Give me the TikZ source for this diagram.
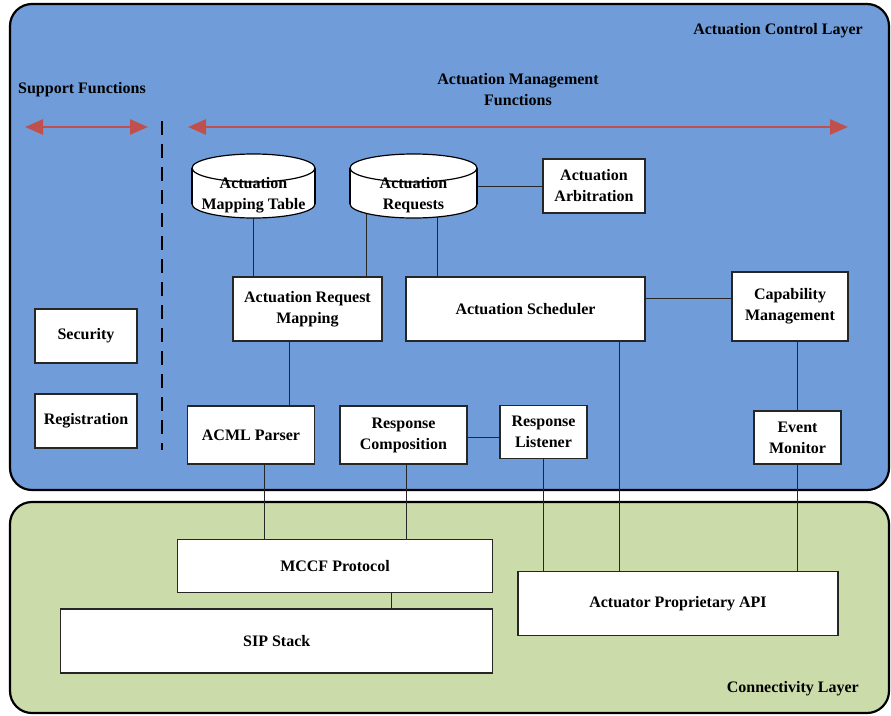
\documentclass[tikz,border=0pt]{standalone}
\usepackage{fontspec}
\setmainfont{Liberation Serif}
\usetikzlibrary{arrows.meta}
\pgfdeclarelayer{bg}
\pgfdeclarelayer{wires}
\pgfsetlayers{bg,wires,main}
\definecolor{layerblue}{RGB}{112,157,218}
\definecolor{layergreen}{RGB}{204,219,170}
\definecolor{arrowred}{RGB}{192,80,77}
\tikzset{
  x=1pt, y=-1pt,
  every node/.style={font=\fontsize{16}{21}\selectfont\bfseries, align=center, inner sep=0pt},
  layerbox/.style={draw=black, line width=2.2pt, rounded corners=22pt},
  fbox/.style={draw=black!85, line width=1.3pt, fill=white},
  cylslot/.style={minimum width=123pt, minimum height=64pt},
  wire/.style={draw=black!85, line width=1pt},
  span/.style={draw=arrowred, line width=2.6pt, {Triangle[length=18pt,width=15pt]}-{Triangle[length=18pt,width=15pt]}},
}
% white drum: centre x, top y, bottom y, x radius, y radius
\newcommand{\drum}[5]{%
  \fill[white] (#1,#3-14) ellipse[x radius=#4, y radius=#5];
  \draw[black, line width=1.2pt] (#1,#3-14) ellipse[x radius=#4, y radius=#5];
  \fill[white] (#1-#4,#2+14) rectangle (#1+#4,#3-14);
  \draw[black, line width=1.2pt] (#1-#4,#2+14) -- (#1-#4,#3-14) (#1+#4,#2+14) -- (#1+#4,#3-14);
  \filldraw[fill=white, draw=black, line width=1.2pt] (#1,#2+14) ellipse[x radius=#4, y radius=#5];
}
\begin{document}
\begin{tikzpicture}
\useasboundingbox (0,0) rectangle (891,715);

% layers
\begin{pgfonlayer}{bg}
  \path[layerbox, fill=layerblue] (10,4) rectangle (889,490);
  \path[layerbox, fill=layergreen] (10,502) rectangle (889,713);
\end{pgfonlayer}

\node[anchor=east] (acl) at (863,31) {Actuation Control Layer};
\node[anchor=east] (cl) at (859,689) {Connectivity Layer};
\node (sf) at (82,90) {Support Functions};
\node (amf) at (518,90) {Actuation Management\\Functions};

% function range arrows and divider
\coordinate (sfl) at (25,127);
\coordinate (sfr) at (148,127);
\coordinate (amfl) at (188,127);
\coordinate (amfr) at (848,127);
\coordinate (divt) at (162,121);
\coordinate (divb) at (162,450);
\draw[span] (sfl) -- (sfr);
\draw[span] (amfl) -- (amfr);
\draw[black, line width=2.4pt, dash pattern=on 14pt off 9pt] (divt) -- (divb);

% drums
\drum{253.5}{154}{218}{61.5}{14}
\drum{413.5}{154}{218}{63.5}{14}
\node[cylslot] (amt) at (253.5,186) {};
\node[cylslot] (ar) at (413.5,186) {};
\node (amtt) at (253.5,195) {Actuation\\Mapping Table};
\node (art) at (413.5,195) {Actuation\\Requests};

% boxes
\node[fbox, minimum width=102pt, minimum height=54pt] (arb) at (594,186) {Actuation\\Arbitration};
\node[fbox, minimum width=149pt, minimum height=64pt] (arm) at (307.5,309) {Actuation Request\\Mapping};
\node[fbox, minimum width=239pt, minimum height=64pt] (sch) at (525.5,309) {Actuation Scheduler};
\node[fbox, minimum width=116pt, minimum height=69pt] (cap) at (790,306.5) {Capability\\Management};
\node[fbox, minimum width=102pt, minimum height=54pt] (sec) at (86,336) {Security};
\node[fbox, minimum width=102pt, minimum height=54pt] (reg) at (86,421) {Registration};
\node[fbox, minimum width=127pt, minimum height=58pt] (acml) at (251,435) {ACML Parser};
\node[fbox, minimum width=127pt, minimum height=58pt] (rc) at (403.5,435) {Response\\Composition};
\node[fbox, minimum width=87pt, minimum height=53pt] (rl) at (543.5,432) {Response\\Listener};
\node[fbox, minimum width=87pt, minimum height=53pt] (em) at (797.5,437.5) {Event\\Monitor};
\node[fbox, minimum width=315pt, minimum height=53pt] (mccf) at (335,566) {MCCF Protocol};
\node[fbox, minimum width=432pt, minimum height=64pt] (sip) at (276.7,641) {SIP Stack};
\node[fbox, minimum width=320pt, minimum height=64pt] (api) at (678,603.7) {Actuator Proprietary API};

% connectors (drawn beneath the boxes)
\begin{pgfonlayer}{wires}
  \draw[wire] (amt.center) -- (amt.center |- arm.center);
  \draw[wire] (ar.center -| 366,0) -- (arm.center -| 366,0);
  \draw[wire] (ar.center -| 437,0) -- (sch.center -| 437,0);
  \draw[wire] (ar.center) -- (arb.center);
  \draw[wire] (arm.center -| 289,0) -- (acml.center -| 289,0);
  \draw[wire] (sch.center |- 0,298) -- (cap.center |- 0,298);
  \draw[wire] (sch.center -| 619,0) -- (api.center -| 619,0);
  \draw[wire] (cap.center -| em.center) -- (em.center);
  \draw[wire] (em.center) -- (em.center |- api.center);
  \draw[wire] (rc.center |- 0,437.5) -- (rl.center |- 0,437.5);
  \draw[wire] (rl.center) -- (rl.center |- api.center);
  \draw[wire] (acml.center -| 264,0) -- (mccf.center -| 264,0);
  \draw[wire] (rc.center -| 406.5,0) -- (mccf.center -| 406.5,0);
  \draw[wire] (mccf.center -| 391,0) -- (sip.center -| 391,0);
\end{pgfonlayer}
\end{tikzpicture}
\end{document}
